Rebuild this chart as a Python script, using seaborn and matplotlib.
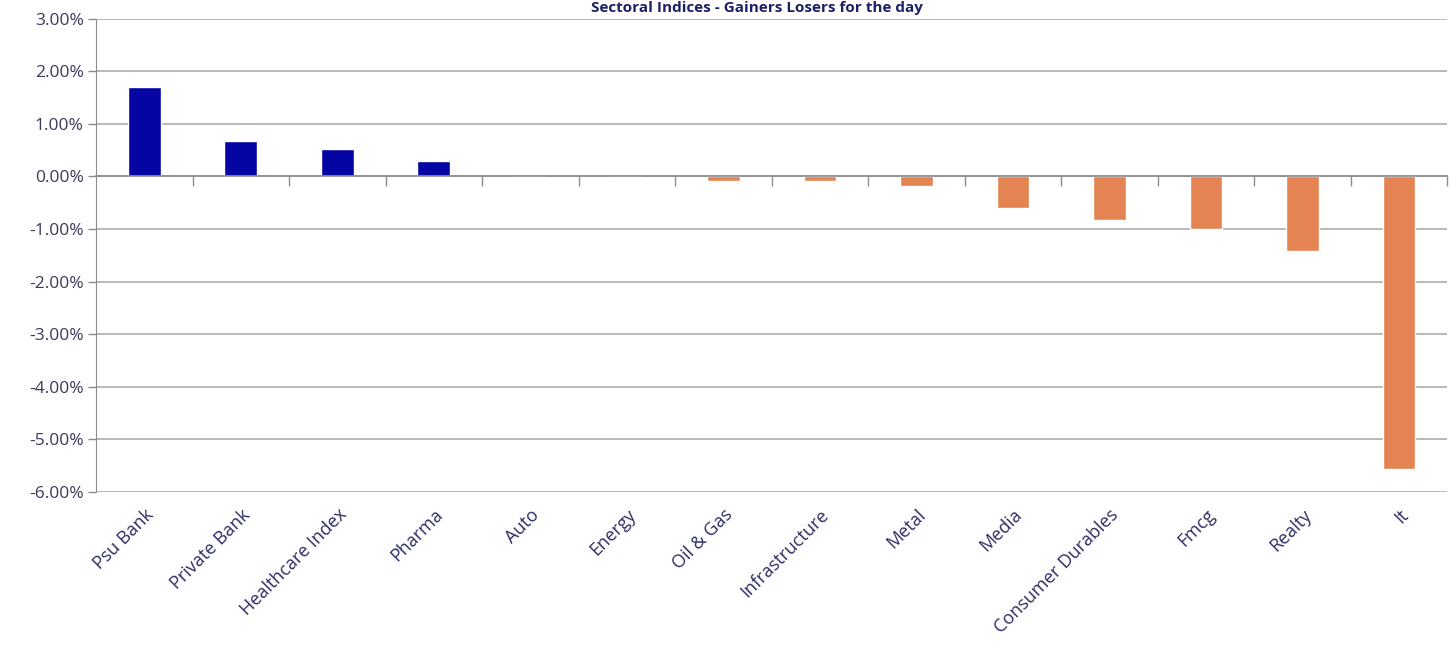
import numpy as np
import pandas as pd
import seaborn as sns
import matplotlib
matplotlib.use("Agg")
import matplotlib.pyplot as plt
from matplotlib.ticker import PercentFormatter, FixedLocator

sectors = ["Psu Bank", "Private Bank", "Healthcare Index", "Pharma", "Auto", "Energy",
           "Oil & Gas", "Infrastructure", "Metal", "Media", "Consumer Durables",
           "Fmcg", "Realty", "It"]
changes = [1.70, 0.67, 0.53, 0.29, 0.0, 0.0, -0.08, -0.08, -0.18, -0.60, -0.83,
           -1.00, -1.42, -5.57]
y_ticks = [3, 2, 1, 0, -1, -2, -3, -4, -5, -6]

df = pd.DataFrame({"sector": sectors, "change": changes})
df["side"] = np.where(df["change"] >= 0, "gain", "loss")

sns.set_style("white")
plt.rcParams["font.family"] = ["Open Sans", "DejaVu Sans"]
plt.rcParams["axes.unicode_minus"] = False

fig, ax = plt.subplots(figsize=(14.56, 6.48), dpi=100)
fig.subplots_adjust(left=0.066, right=0.994, top=0.971, bottom=0.241)

sns.barplot(data=df, x="sector", y="change", hue="side",
            palette={"gain": "#0505A3", "loss": "#E38452"},
            width=0.34, legend=False, ax=ax, saturation=1)

ax.set_ylim(-6, 3)
ax.set_xlim(-0.5, len(sectors) - 0.5)
ax.set_yticks(y_ticks)
ax.yaxis.set_major_formatter(PercentFormatter(decimals=2))
ax.yaxis.grid(True, color="#a6a6a6", lw=1.1)
ax.set_axisbelow(True)
ax.tick_params(axis="y", left=True, length=6, width=1, color="#8c8c8c",
               labelsize=12.5, labelcolor="#3a3a5a", pad=3)

# zero line with category separator ticks
ax.spines["bottom"].set_position(("data", 0))
ax.spines["bottom"].set_color("#8c8c8c")
ax.spines["bottom"].set_linewidth(1.2)
ax.xaxis.set_minor_locator(FixedLocator(np.arange(len(sectors)) + 0.5))
ax.tick_params(axis="x", which="minor", bottom=True, length=7, width=1,
               color="#8c8c8c", direction="out")
ax.tick_params(axis="x", which="major", length=0, labelbottom=False)
ax.spines["left"].set_color("#8c8c8c")
ax.spines["top"].set_visible(False)
ax.spines["right"].set_visible(False)
ax.set_xlabel("")
ax.set_ylabel("")

# category labels below the plot
sec = ax.secondary_xaxis(0)
sec.set_xticks(range(len(sectors)), labels=sectors)
sec.spines["bottom"].set_visible(False)
sec.tick_params(length=0, pad=10, labelsize=13, labelcolor="#2e2e66")
for lab in sec.get_xticklabels():
    lab.set_rotation(45)
    lab.set_ha("right")
    lab.set_rotation_mode("anchor")

fig.text(0.52, 0.999, "Sectoral Indices - Gainers Losers for the day",
         ha="center", va="top", fontsize=11, fontweight="bold", color="#1f1f66")

fig.savefig("out.png", dpi=100)
